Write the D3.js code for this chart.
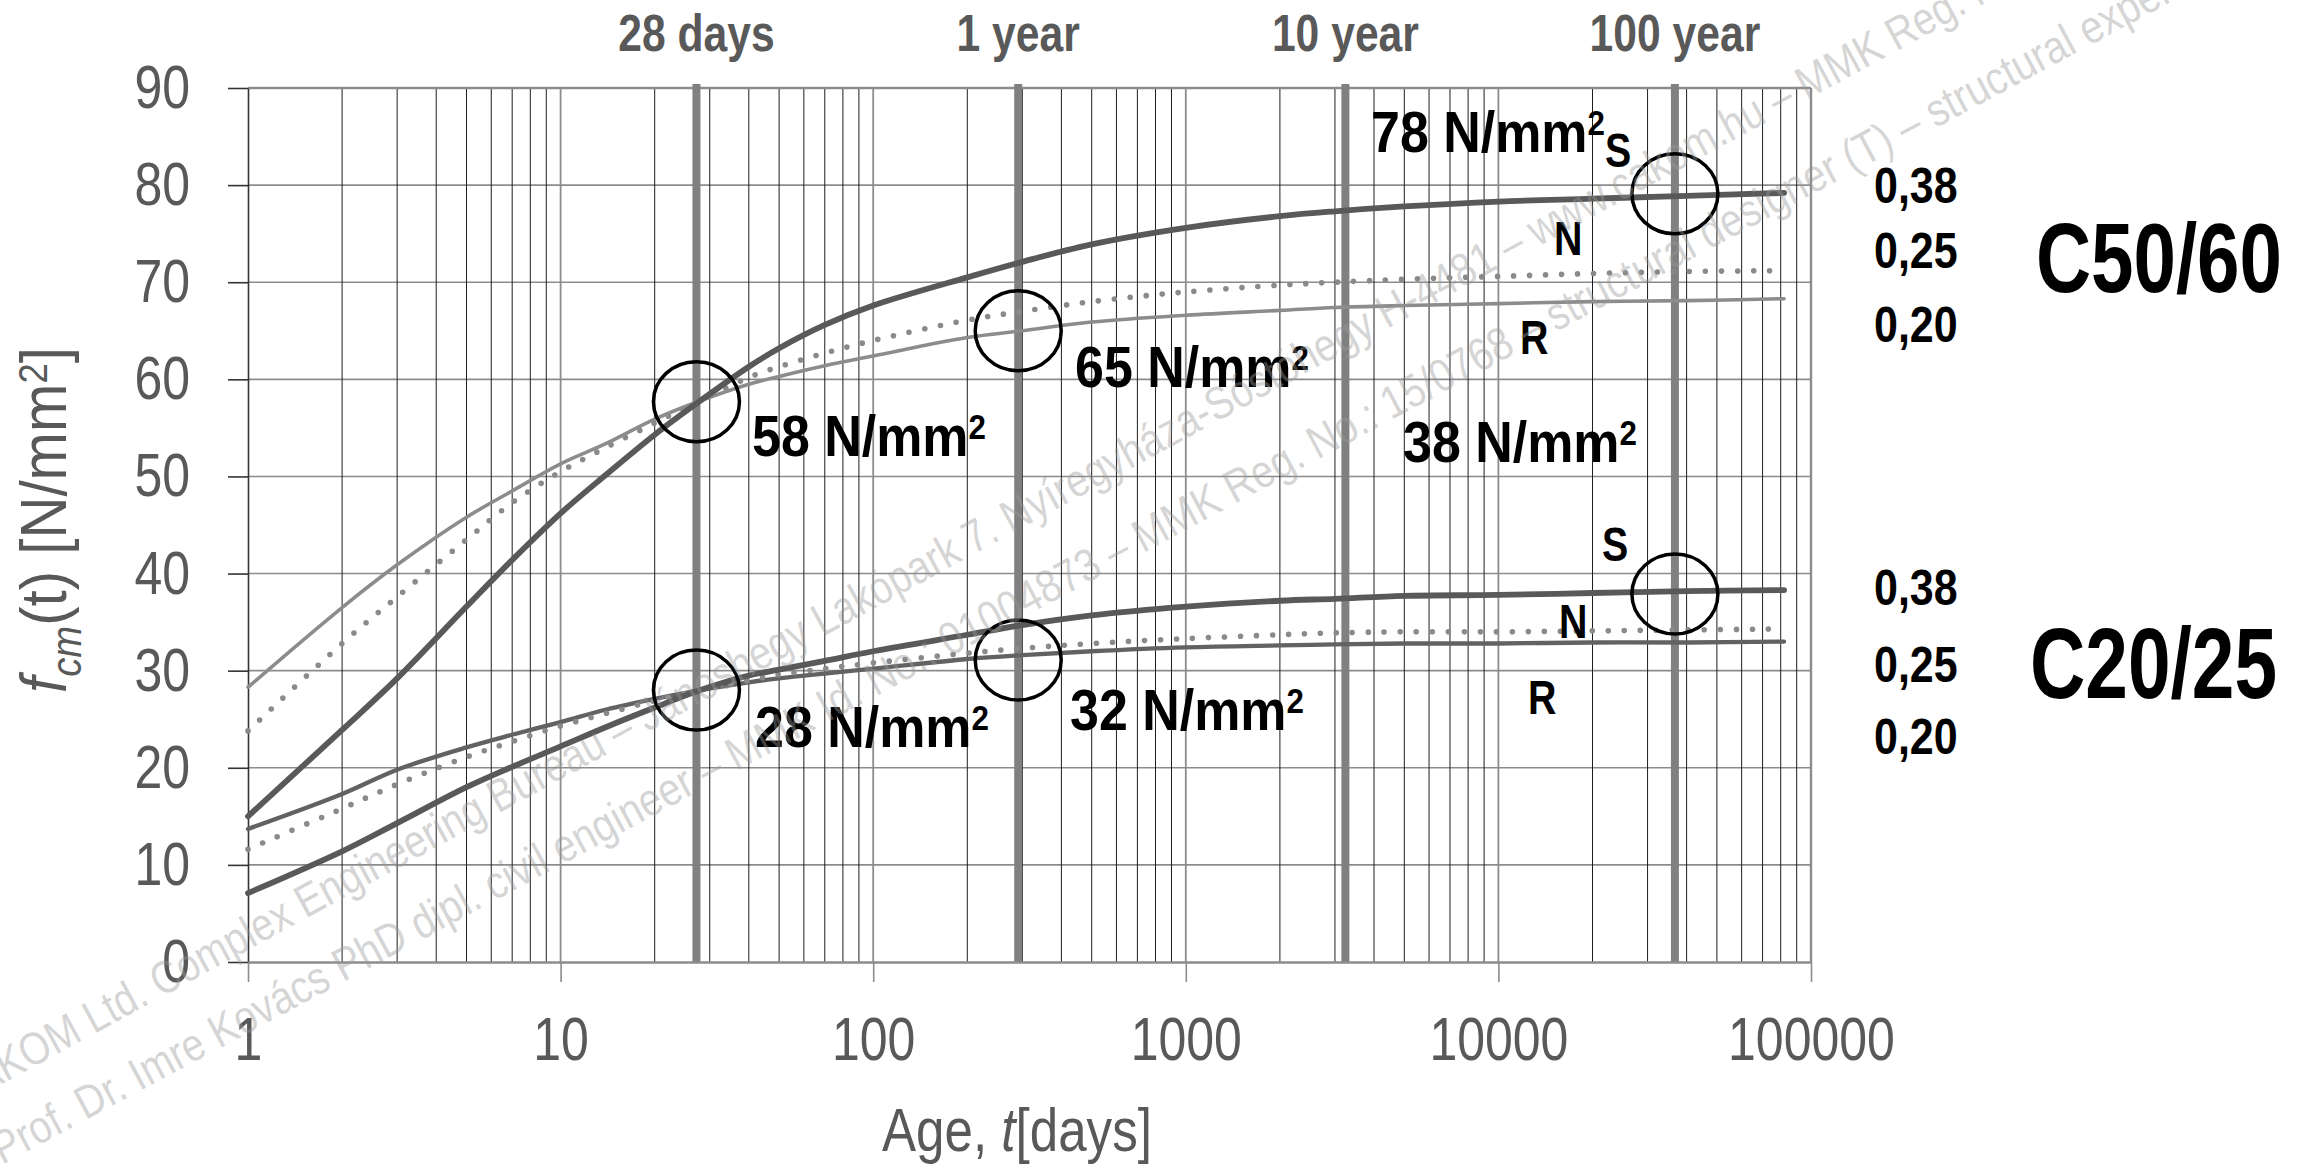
<!DOCTYPE html>
<html><head><meta charset="utf-8">
<script src="https://cdn.jsdelivr.net/npm/d3@7"></script>
<style>
html,body{margin:0;padding:0;background:#fff;overflow:hidden;}
svg{display:block;}
text{font-family:"Liberation Sans", Arial, sans-serif;}
</style></head><body>
<svg id="chart" width="2313" height="1168"></svg>
<script>
// ---------- data ----------
const days = [1,2,3,5,7,10,14,20,28,40,50,70,100,200,300,500,1000,2000,3000,5000,10000,20000,40000,82000];
const c50S = [15.0,23.9,29.2,36.6,41.4,46.2,50.2,54.3,57.8,61.3,63.2,65.6,67.6,70.5,72.1,73.9,75.6,76.8,77.3,77.8,78.3,78.6,78.9,79.2];
const c50N = [23.8,32.8,37.6,43.5,47.3,50.5,53.0,55.5,57.8,60.2,61.3,62.7,64.0,66.1,67.0,68.0,69.0,69.7,70.0,70.3,70.6,70.9,71.1,71.2];
const c50R = [28.3,36.5,40.9,45.8,48.5,51.3,53.4,55.9,57.8,59.5,60.3,61.4,62.4,64.3,65.0,65.9,66.6,67.1,67.4,67.6,67.8,68.0,68.1,68.3];
const c20S = [7.1,11.4,14.3,18.0,20.1,22.2,24.2,26.2,28.0,29.5,30.1,31.0,32.0,33.7,34.7,35.7,36.6,37.2,37.4,37.7,37.8,38.0,38.2,38.3];
const c20N = [11.6,15.8,18.3,21.1,22.7,24.3,25.6,26.9,28.0,29.0,29.6,30.2,30.8,31.8,32.3,32.8,33.3,33.7,33.9,34.0,34.0,34.1,34.2,34.3];
const c20R = [13.7,17.3,19.8,22.1,23.4,24.7,26.0,27.1,28.0,28.8,29.2,29.7,30.2,31.2,31.6,32.0,32.4,32.6,32.7,32.8,32.8,32.9,32.9,33.0];

const markerDays = [27.2, 291, 3240, 36700];
const markerLabels = ["28 days", "1 year", "10 year", "100 year"];

const circleDays = [27.2, 27.2, 291, 291, 36700, 36700];
const circleValues = [57.7, 28.0, 65.0, 31.1, 79.1, 37.9];

const strengthLabels = ["58", "65", "78", "28", "32", "38"];
const classLetters = ["S", "N", "R", "S", "N", "R"];
const coefLabels = ["0,38", "0,25", "0,20", "0,38", "0,25", "0,20"];
const gradeLabels = ["C50/60", "C20/25"];

const yTicks = [0,10,20,30,40,50,60,70,80,90];
const xTicks = [1,10,100,1000,10000,100000];

const wmLine1 = "CAKOM Ltd. Complex Engineering Bureau – Jánoshegy Lakópark 7. Nyíregyháza-Sóstóhegy H-4481 – www.cakom.hu – MMK Reg. No.: 15/0768";
const wmLine2 = "Prof. Dr. Imre Kovács PhD dipl. civil engineer – MMK Id. No.: 01004873 – MMK Reg. No.: 15/0768 – structural designer (T) – structural expert";

// ---------- layout ----------
const svg = d3.select('#chart');
const L = 248, R = 1811, T = 88, B = 962;
const x = d3.scaleLog().domain([1, 100000]).range([L, R]);
const y = d3.scaleLinear().domain([0, 90]).range([B, T]);
const FONT = '"Liberation Sans", Arial, sans-serif';

function addText(parent, build, o) {
  const t = parent.append('text')
    .attr('font-size', o.size)
    .attr('font-weight', o.bold ? 'bold' : 'normal')
    .attr('font-style', o.italic ? 'italic' : 'normal')
    .attr('fill', o.fill || '#000')
    .attr('text-anchor', o.anchor || 'start');
  if (typeof build === 'string') t.text(build); else build(t);
  let sx = o.sx || 0.82;
  if (o.width) { const w = t.node().getBBox().width; if (w > 0) sx = o.width / w; }
  const rot = o.rotate ? ` rotate(${o.rotate})` : '';
  t.attr('transform', `translate(${o.x},${o.y})${rot} scale(${sx},1)`);
  return t;
}

// ---------- grid ----------
const grid = svg.append('g');
grid.selectAll('line.h').data(yTicks.filter(v => v > 0 && v < 90)).enter().append('line')
  .attr('x1', L).attr('x2', R).attr('y1', d => y(d)).attr('y2', d => y(d))
  .attr('stroke', '#8c8c8c').attr('stroke-width', 1.6);
const vt = x.ticks().filter(t => t > 1 && t < 100000);
const isMajor = t => Math.abs(Math.log10(t) - Math.round(Math.log10(t))) < 1e-9;
grid.selectAll('line.vmin').data(vt.filter(t => !isMajor(t))).enter().append('line')
  .attr('x1', d => x(d)).attr('x2', d => x(d)).attr('y1', T).attr('y2', B)
  .attr('stroke', '#1e1e1e').attr('stroke-width', 1);
grid.selectAll('line.vmaj').data(vt.filter(isMajor)).enter().append('line')
  .attr('x1', d => x(d)).attr('x2', d => x(d)).attr('y1', T).attr('y2', B)
  .attr('stroke', '#8c8c8c').attr('stroke-width', 1.8);
grid.append('line').attr('x1', L).attr('x2', R).attr('y1', y(90)).attr('y2', y(90))
  .attr('stroke', '#8c8c8c').attr('stroke-width', 2.4);
grid.append('line').attr('x1', x(100000)).attr('x2', x(100000)).attr('y1', T).attr('y2', B)
  .attr('stroke', '#8c8c8c').attr('stroke-width', 2.4);

// ---------- marker lines ----------
svg.append('g').selectAll('line').data(markerDays).enter().append('line')
  .attr('x1', d => x(d)).attr('x2', d => x(d)).attr('y1', T - 4).attr('y2', B)
  .attr('stroke', '#808080').attr('stroke-width', 8);

// ---------- axes ----------
const yAxis = svg.append('g').attr('transform', `translate(${L},0)`)
  .call(d3.axisLeft(y).tickValues(yTicks).tickSize(20).tickSizeOuter(0).tickPadding(38));
yAxis.attr('font-size', 61).attr('font-family', FONT);
yAxis.select('.domain').attr('stroke', '#333').attr('stroke-width', 1.6);
yAxis.selectAll('.tick line').attr('stroke', '#333').attr('stroke-width', 1.6);
yAxis.selectAll('.tick text').attr('fill', '#595959').each(function () {
  const xv = +this.getAttribute('x');
  d3.select(this).attr('x', xv / 0.82).attr('transform', 'scale(0.82,1)');
});

const xAxis = svg.append('g').attr('transform', `translate(0,${B})`)
  .call(d3.axisBottom(x).tickValues(xTicks).tickFormat(d3.format('d')).tickSize(20).tickSizeOuter(0).tickPadding(35));
xAxis.attr('font-size', 61).attr('font-family', FONT);
xAxis.select('.domain').attr('stroke', '#8c8c8c').attr('stroke-width', 2.6);
xAxis.selectAll('.tick line').attr('stroke', '#8c8c8c').attr('stroke-width', 1.6);
xAxis.selectAll('.tick text').attr('fill', '#595959').attr('transform', 'scale(0.82,1)');

// ---------- curves ----------
const line = d3.line().x(d => x(d[0])).y(d => y(d[1])).curve(d3.curveCatmullRom.alpha(0.5));
const series = [
  { v: c50R, color: '#8c8c8c', w: 3.6 },
  { v: c20R, color: '#626262', w: 4.3 },
  { v: c50N, color: '#8a8a8a', w: 5.6, dots: true },
  { v: c20N, color: '#8a8a8a', w: 5.6, dots: true },
  { v: c50S, color: '#595959', w: 5.8 },
  { v: c20S, color: '#595959', w: 5.8 }
];
const cg = svg.append('g');
series.forEach(s => {
  cg.append('path')
    .attr('d', line(days.map((d, i) => [d, s.v[i]])))
    .attr('fill', 'none').attr('stroke', s.color).attr('stroke-width', s.w)
    .attr('stroke-linecap', 'round').attr('stroke-linejoin', 'round')
    .attr('stroke-dasharray', s.dots ? '0,16' : null);
});

// ---------- circles ----------
svg.append('g').selectAll('ellipse').data(circleDays).enter().append('ellipse')
  .attr('cx', d => x(d)).attr('cy', (d, i) => y(circleValues[i]))
  .attr('rx', 43).attr('ry', 40)
  .attr('fill', 'none').attr('stroke', '#000').attr('stroke-width', 3.5);

// ---------- texts ----------
const tg = svg.append('g');
markerLabels.forEach((lab, i) => {
  addText(tg, lab, { x: x(markerDays[i]), y: 51, size: 52, bold: true, fill: '#595959', anchor: 'middle', sx: 0.82 });
});

const strengthPos = [[752, 456], [1075, 387], [1371, 152], [755, 747], [1070, 730], [1403, 462]];
strengthLabels.forEach((s, i) => {
  addText(tg, t => {
    t.append('tspan').text(s + ' N/mm');
    t.append('tspan').attr('font-size', 35).attr('dy', -17).text('2');
  }, { x: strengthPos[i][0], y: strengthPos[i][1], size: 58, bold: true, width: 234 });
});

const letterPos = [[1605, 167], [1554, 255], [1520, 354], [1602, 561], [1559, 638], [1528, 714]];
classLetters.forEach((s, i) => {
  addText(tg, s, { x: letterPos[i][0], y: letterPos[i][1], size: 48, bold: true, sx: 0.82 });
});

const coefY = [203, 268, 342, 605, 682, 754];
coefLabels.forEach((s, i) => {
  addText(tg, s, { x: 1874, y: coefY[i], size: 50, bold: true, sx: 0.86 });
});

addText(tg, gradeLabels[0], { x: 2036, y: 292, size: 98, bold: true, width: 246 });
addText(tg, gradeLabels[1], { x: 2030, y: 698, size: 100, bold: true, width: 247 });

// axis titles
addText(tg, t => {
  t.append('tspan').text('Age, ');
  t.append('tspan').attr('font-style', 'italic').text('t');
  t.append('tspan').text('[days]');
}, { x: 882, y: 1151, size: 62, fill: '#595959', width: 270 });

addText(tg, t => {
  t.append('tspan').attr('font-style', 'italic').text('f');
  t.append('tspan').attr('font-style', 'italic').attr('font-size', 42).attr('dy', 15).text('cm');
  t.append('tspan').attr('dy', -15).text('(t) [N/mm');
  t.append('tspan').attr('font-size', 40).attr('dy', -19).text('2');
  t.append('tspan').attr('dy', 19).text(']');
}, { x: 66, y: 520, size: 64, fill: '#595959', anchor: 'middle', rotate: -90, width: 346 });

// ---------- watermark ----------
const wm = svg.append('g').attr('fill', '#9a9a9a').attr('fill-opacity', 0.42).attr('font-size', 46);
const w1 = wm.append('text').text(wmLine1);
const pre = w1.node().getSubStringLength(0, 2);
w1.attr('x', -pre).attr('transform', 'translate(6,1082) rotate(-28.6) scale(0.85,1)');
wm.append('text').text(wmLine2).attr('transform', 'translate(2,1165) rotate(-28.2) scale(0.86,1)');
</script>
</body></html>
